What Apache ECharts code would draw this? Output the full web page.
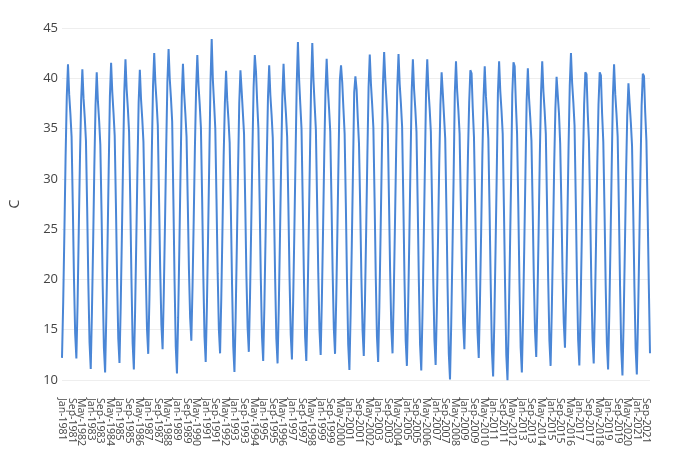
<!DOCTYPE html>
<html>
<head>
<meta charset="utf-8">
<script src="https://cdn.jsdelivr.net/npm/echarts@6/dist/echarts.min.js"></script>
<style>
html,body{margin:0;padding:0;background:#fff;}
#chart{width:700px;height:450px;}
</style>
</head>
<body>
<div id="chart"></div>
<script>
var monthNames = ['Jan','Feb','Mar','Apr','May','Jun','Jul','Aug','Sep','Oct','Nov','Dec'];
var firstYear = 1981;
var lastYear = 2021;
var yTicks = [10, 15, 20, 25, 30, 35, 40, 45];
var yTitle = 'C';
var labelEvery = 8; // one x label every 8 months

// Monthly temperature (C), one row per year, Jan..Dec
var temperature = [
  12.2, 17.7, 24.7, 32.2, 38.2, 41.4, 38.4, 36.5, 34.2, 27.5, 20.1, 14.6,
  12.15, 17.5, 24.9, 32.0, 37.8, 40.9, 38.0, 36.1, 33.8, 27.2, 19.6, 13.7,
  11.1, 16.8, 23.6, 31.2, 37.3, 40.6, 37.7, 35.8, 33.4, 26.8, 19.3, 13.2,
  10.75, 16.4, 23.3, 31.0, 38.2, 41.55, 38.6, 36.6, 34.3, 27.6, 20.2, 14.1,
  11.7, 17.2, 24.3, 31.8, 38.6, 41.9, 38.9, 37.0, 34.7, 27.9, 20.0, 13.6,
  11.05, 16.6, 23.6, 31.0, 37.6, 40.85, 37.9, 36.0, 33.7, 27.3, 20.4, 15.0,
  12.6, 18.1, 25.1, 32.6, 39.2, 42.5, 39.5, 37.6, 35.3, 28.3, 21.0, 15.5,
  13.05, 18.6, 25.5, 33.0, 39.6, 42.9, 39.9, 38.0, 35.7, 28.0, 19.8, 13.3,
  10.65, 16.2, 23.2, 30.8, 38.1, 41.45, 38.5, 36.5, 34.2, 27.8, 21.0, 16.2,
  13.9, 19.3, 26.0, 33.2, 39.0, 42.3, 39.3, 37.4, 35.1, 28.2, 20.4, 14.3,
  11.8, 17.3, 24.4, 32.0, 39.6, 43.9, 39.8, 37.5, 35.0, 28.0, 20.6, 15.0,
  12.65, 18.1, 25.0, 32.3, 37.5, 40.75, 37.8, 35.9, 33.6, 27.0, 19.5, 13.3,
  10.8, 16.3, 23.3, 30.8, 37.5, 40.8, 38.8, 38.9, 34.5, 27.6, 20.3, 15.2,
  12.8, 18.3, 25.3, 32.8, 39.1, 42.3, 40.65, 37.6, 35.0, 28.0, 20.2, 14.3,
  11.9, 17.4, 24.4, 31.9, 38.1, 41.3, 38.3, 36.4, 34.1, 27.4, 20.0, 14.1,
  11.65, 17.1, 24.1, 31.6, 38.2, 41.45, 38.4, 36.5, 34.2, 27.6, 20.2, 14.5,
  12.05, 17.6, 24.6, 32.1, 39.4, 43.6, 39.9, 37.4, 35.0, 27.8, 20.3, 14.3,
  11.9, 17.4, 24.4, 31.9, 39.3, 43.5, 39.8, 37.3, 34.9, 27.9, 20.6, 15.0,
  12.5, 18.0, 25.0, 32.5, 38.7, 41.95, 39.0, 37.0, 34.7, 28.0, 20.7, 15.1,
  12.6, 18.1, 25.1, 32.6, 39.8, 41.3, 39.6, 37.0, 34.5, 27.6, 19.8, 13.5,
  11.0, 16.5, 23.5, 31.0, 38.6, 40.2, 38.9, 36.0, 33.5, 27.3, 20.2, 14.9,
  12.4, 17.9, 24.9, 32.4, 39.1, 42.35, 39.4, 37.4, 35.1, 28.1, 20.3, 14.3,
  11.8, 17.3, 24.3, 31.8, 39.4, 42.6, 39.8, 37.7, 35.4, 28.2, 20.8, 15.1,
  12.65, 18.2, 25.2, 32.6, 39.2, 42.4, 39.4, 37.5, 35.2, 28.0, 20.0, 13.9,
  11.4, 16.9, 23.9, 31.4, 38.7, 41.9, 38.9, 37.0, 34.7, 27.6, 19.7, 13.5,
  10.95, 16.4, 23.4, 30.9, 38.7, 41.9, 38.9, 37.0, 34.7, 27.7, 20.0, 14.0,
  11.5, 17.0, 24.0, 31.5, 37.4, 40.6, 38.5, 38.4, 34.0, 27.0, 19.2, 12.6,
  10.05, 15.5, 22.5, 30.0, 38.5, 41.7, 38.7, 36.8, 34.5, 27.8, 21.0, 15.6,
  13.05, 18.5, 25.5, 32.5, 37.6, 40.8, 40.5, 37.0, 34.2, 27.6, 20.3, 14.7,
  12.2, 17.7, 24.7, 32.2, 38.0, 41.2, 38.2, 36.3, 34.0, 27.2, 19.5, 12.9,
  10.35, 15.8, 22.8, 30.3, 38.5, 41.7, 38.7, 36.8, 34.5, 27.3, 19.3, 12.5,
  9.97, 15.4, 22.4, 29.9, 38.4, 41.6, 41.2, 37.5, 34.5, 27.5, 19.6, 13.2,
  10.75, 16.2, 23.2, 30.7, 37.8, 41.0, 38.0, 36.1, 33.8, 27.3, 20.1, 14.8,
  12.3, 17.8, 24.8, 32.3, 38.5, 41.7, 38.7, 36.8, 34.5, 27.6, 19.9, 13.9,
  11.4, 16.9, 23.9, 31.4, 37.0, 40.15, 40.0, 36.5, 33.5, 27.5, 20.6, 15.7,
  13.2, 18.7, 25.7, 33.2, 39.3, 42.5, 39.5, 37.6, 35.3, 28.0, 20.1, 14.0,
  11.45, 16.9, 23.9, 31.4, 37.4, 40.6, 40.4, 36.6, 33.8, 27.2, 19.8, 14.1,
  11.65, 17.1, 24.1, 31.6, 37.4, 40.6, 40.3, 36.5, 33.7, 27.0, 19.4, 13.6,
  11.05, 16.5, 23.5, 31.0, 38.2, 41.4, 38.4, 36.5, 34.2, 27.2, 19.3, 13.0,
  10.45, 15.9, 22.9, 30.4, 36.3, 39.5, 37.5, 35.6, 33.3, 26.8, 19.2, 13.1,
  10.55, 16.0, 23.0, 30.5, 37.3, 40.45, 40.2, 36.6, 33.8, 27.0, 19.5, 12.65
];

var categories = [];
for (var y = firstYear; y <= lastYear; y++) {
  for (var m = 0; m < 12; m++) categories.push(monthNames[m] + '-' + y);
}

var font = '"Open Sans", verdana, arial, sans-serif';
var chart = echarts.init(document.getElementById('chart'), null, {renderer: 'canvas'});
chart.setOption({
  animation: false,
  backgroundColor: '#ffffff',
  textStyle: {fontFamily: font},
  grid: {left: 50, right: 50, top: 28, bottom: 70, containLabel: false},
  xAxis: {
    type: 'category',
    data: categories,
    boundaryGap: false,
    axisLine: {show: false},
    axisTick: {show: false},
    splitLine: {show: false},
    axisLabel: {
      interval: 0,
      formatter: function (value, index) { return index % labelEvery === 0 ? value : ''; },
      rotate: -90,
      fontSize: 10.5,
      color: '#444',
      margin: 18,
      showMinLabel: true,
      showMaxLabel: true,
      hideOverlap: false,
      fontFamily: font
    }
  },
  yAxis: {
    type: 'value',
    min: yTicks[0],
    max: yTicks[yTicks.length - 1],
    interval: 5,
    name: yTitle,
    nameLocation: 'middle',
    nameRotate: 90,
    nameGap: 40,
    nameTextStyle: {fontSize: 14, color: '#444', fontFamily: font},
    axisLine: {show: false},
    axisTick: {show: false},
    splitLine: {lineStyle: {color: '#eeeeee', width: 1}},
    axisLabel: {fontSize: 13, color: '#444', margin: 4, fontFamily: font}
  },
  series: [{
    type: 'line',
    data: temperature,
    showSymbol: false,
    clip: false,
    lineStyle: {color: '#4a86d6', width: 2},
    itemStyle: {color: '#4a86d6'}
  }]
});
</script>
</body>
</html>
